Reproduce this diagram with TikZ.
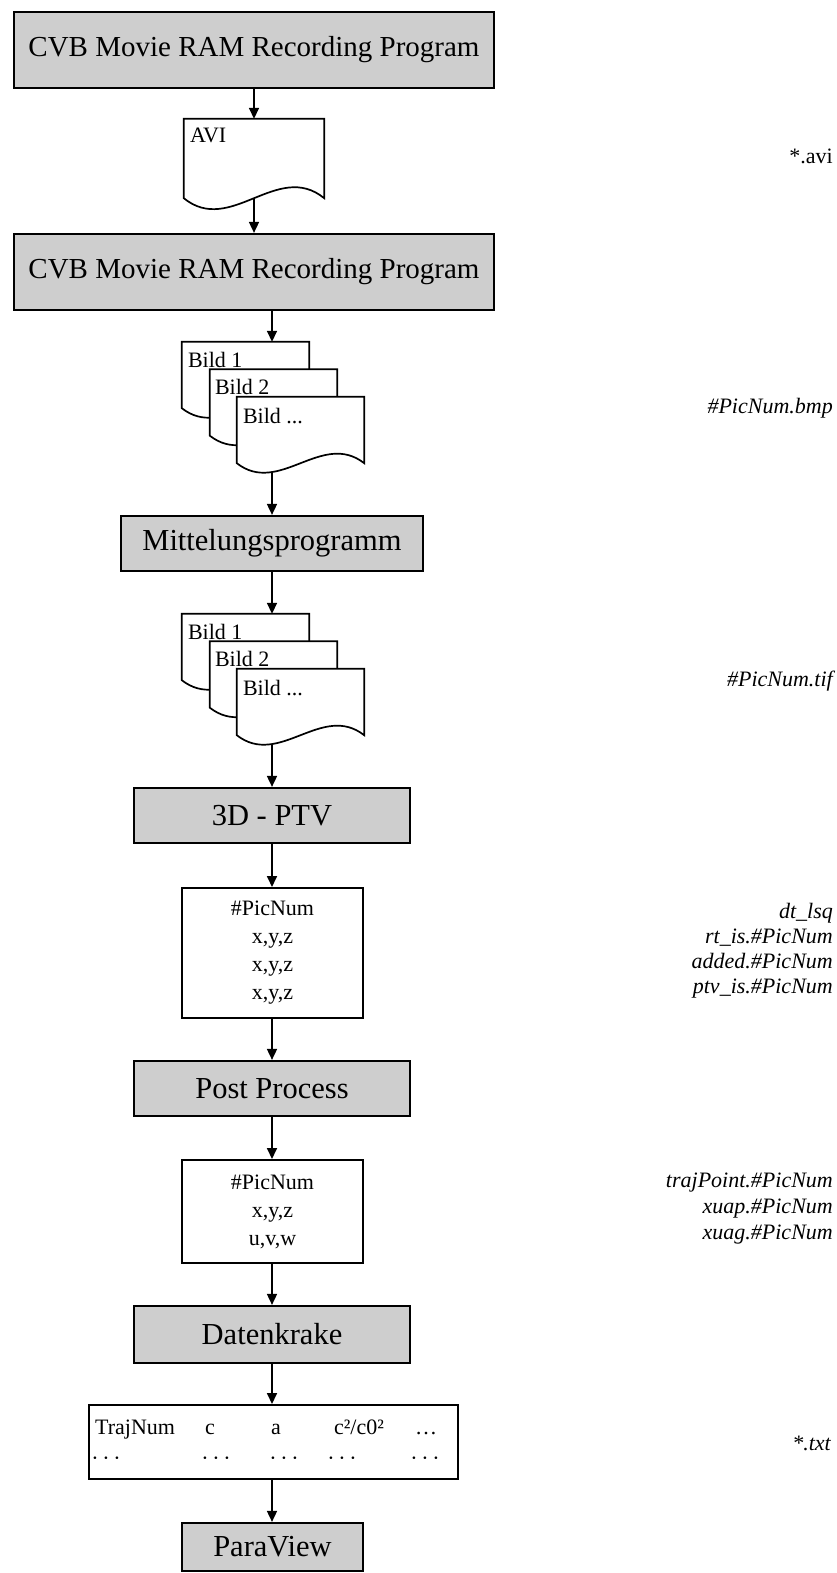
\documentclass[tikz,border=0pt]{standalone}
\usepackage{fontspec}
\setmainfont{Liberation Serif}
\usetikzlibrary{arrows.meta,calc}
\definecolor{procgray}{RGB}{206,206,206}
\newcommand\drawdoc[3]{%
  \draw[docline] (#1.north west) -- (#1.north east) -- (#1.south east)
    .. controls ($(#1.south east)+(-#2/3,-#3)$) and ($(#1.south west)+(#2/3,#3)$) .. (#1.south west) -- cycle;}
\tikzset{
  proc/.style={draw=black, line width=2.2pt, fill=procgray, inner sep=0pt,
    font=\fontsize{30.5}{35}\selectfont},
  bigproc/.style={proc, font=\fontsize{29}{34}\selectfont},
  databox/.style={draw=black, line width=2pt, fill=white, inner sep=0pt, align=center,
    font=\fontsize{22}{28}\selectfont},
  docframe/.style={inner sep=0pt, draw=none},
  docline/.style={draw=black, line width=1.7pt, fill=white, line join=miter},
  doctext/.style={anchor=north west, inner sep=0pt, font=\fontsize{22}{26}\selectfont},
  arr/.style={line width=1.7pt, -{Triangle[length=11pt,width=10pt]}},
  side/.style={anchor=east, inner sep=0pt, align=right, font=\fontsize{22}{25}\selectfont\itshape},
  cell/.style={inner sep=0pt, font=\fontsize{22}{26}\selectfont},
}
\begin{document}
\begin{tikzpicture}[x=1pt,y=-1pt]
\useasboundingbox (0,0) rectangle (836,1573);
\coordinate (cx) at (272,0);

% process boxes
\node[bigproc, minimum width=480pt, minimum height=76pt] (b1) at (254,50) {CVB Movie RAM Recording Program};
\node[bigproc, minimum width=480pt, minimum height=76pt] (b2) at (254,272) {CVB Movie RAM Recording Program};
\node[proc, minimum width=302pt, minimum height=55pt] (m) at (272,543.5) {Mittelungsprogramm};
\node[proc, minimum width=276pt, minimum height=55pt] (ptv) at (272,815.5) {3D - PTV};
\node[proc, minimum width=276pt, minimum height=55pt] (pp) at (272,1088.5) {Post Process};
\node[proc, minimum width=276pt, minimum height=57pt] (dk) at (272,1334.5) {Datenkrake};
\node[proc, minimum width=181pt, minimum height=48pt] (pv) at (272.5,1547) {ParaView};

% AVI document
\node[docframe, minimum width=140pt, minimum height=79pt] (avi) at (254,158.5) {};
\drawdoc{avi}{140}{38}
\node[doctext] (avit) at ($(avi.north west)+(6,9)$) {AVI};

% first stack of images
\node[docframe, minimum width=127pt, minimum height=66pt] (s1a) at (245.5,375) {};
\node[docframe, minimum width=127pt, minimum height=66pt] (s1b) at (273.5,402.5) {};
\node[docframe, minimum width=127pt, minimum height=66pt] (s1c) at (300.5,430) {};
\drawdoc{s1a}{127}{33}
\node[doctext] (s1at) at ($(s1a.north west)+(6,10)$) {Bild 1};
\drawdoc{s1b}{127}{33}
\node[doctext] (s1bt) at ($(s1b.north west)+(5,10)$) {Bild 2};
\drawdoc{s1c}{127}{33}
\node[doctext] (s1ct) at ($(s1c.north west)+(6,11)$) {Bild ...};

% second stack of images
\node[docframe, minimum width=127pt, minimum height=66pt] (s2a) at (245.5,647) {};
\node[docframe, minimum width=127pt, minimum height=66pt] (s2b) at (273.5,674.5) {};
\node[docframe, minimum width=127pt, minimum height=66pt] (s2c) at (300.5,702) {};
\drawdoc{s2a}{127}{33}
\node[doctext] (s2at) at ($(s2a.north west)+(6,10)$) {Bild 1};
\drawdoc{s2b}{127}{33}
\node[doctext] (s2bt) at ($(s2b.north west)+(5,10)$) {Bild 2};
\drawdoc{s2c}{127}{33}
\node[doctext] (s2ct) at ($(s2c.north west)+(6,11)$) {Bild ...};

% data boxes
\node[databox, minimum width=181pt, minimum height=130pt] (d1) at (272.5,953) {\#PicNum\\x,y,z\\x,y,z\\x,y,z};
\node[databox, minimum width=181pt, minimum height=103pt] (d2) at (272.5,1211.5) {\#PicNum\\x,y,z\\u,v,w};
\node[databox, minimum width=369pt, minimum height=74pt] (tab) at (273.5,1442) {};
\node[cell, anchor=base west] (t11) at (95,1434) {TrajNum};
\node[cell, anchor=base] (t12) at (210,1434) {c};
\node[cell, anchor=base] (t13) at (276,1434) {a};
\node[cell, anchor=base] (t14) at (359,1434) {c²/c0²};
\node[cell, anchor=base] (t15) at (426,1434) {…};
\node[cell, anchor=base] (t21) at (106,1465) {·\,·\,·};
\node[cell, anchor=base] (t22) at (216,1465) {·\,·\,·};
\node[cell, anchor=base] (t23) at (284,1465) {·\,·\,·};
\node[cell, anchor=base] (t24) at (342,1465) {·\,·\,·};
\node[cell, anchor=base] (t25) at (425,1465) {·\,·\,·};

% side labels
\node[side, font=\fontsize{22}{25}\selectfont] (l1) at (833,156) {*.avi};
\node[side] (l2) at (833,408) {\#PicNum.bmp};
\node[side] (l3) at (833,681) {\#PicNum.tif};
\node[side] (l4) at (833,950.5) {dt\_lsq\\rt\_is.\#PicNum\\added.\#PicNum\\ptv\_is.\#PicNum};
\node[side, font=\fontsize{22}{26}\selectfont\itshape] (l5) at (833,1209) {trajPoint.\#PicNum\\xuap.\#PicNum\\xuag.\#PicNum};
\node[side] (l6) at (831,1443) {*.txt};

% connectors
\draw[arr] (b1.south) -- (avi.north);
\draw[arr] (avi.south) -- (b2.north);
\draw[arr] (b2.south -| cx) -- (s1a.north -| cx);
\draw[arr] ($(s1c.south -| cx)+(0,8.8)$) -- (m.north);
\draw[arr] (m.south) -- (s2a.north -| cx);
\draw[arr] ($(s2c.south -| cx)+(0,8.8)$) -- (ptv.north);
\draw[arr] (ptv.south) -- (ptv.south |- d1.north);
\draw[arr] (d1.south -| ptv.south) -- (pp.north);
\draw[arr] (pp.south) -- (pp.south |- d2.north);
\draw[arr] (d2.south -| pp.south) -- (dk.north);
\draw[arr] (dk.south) -- (dk.south |- tab.north);
\draw[arr] (tab.south -| dk.south) -- (dk.south |- pv.north);
\end{tikzpicture}
\end{document}
